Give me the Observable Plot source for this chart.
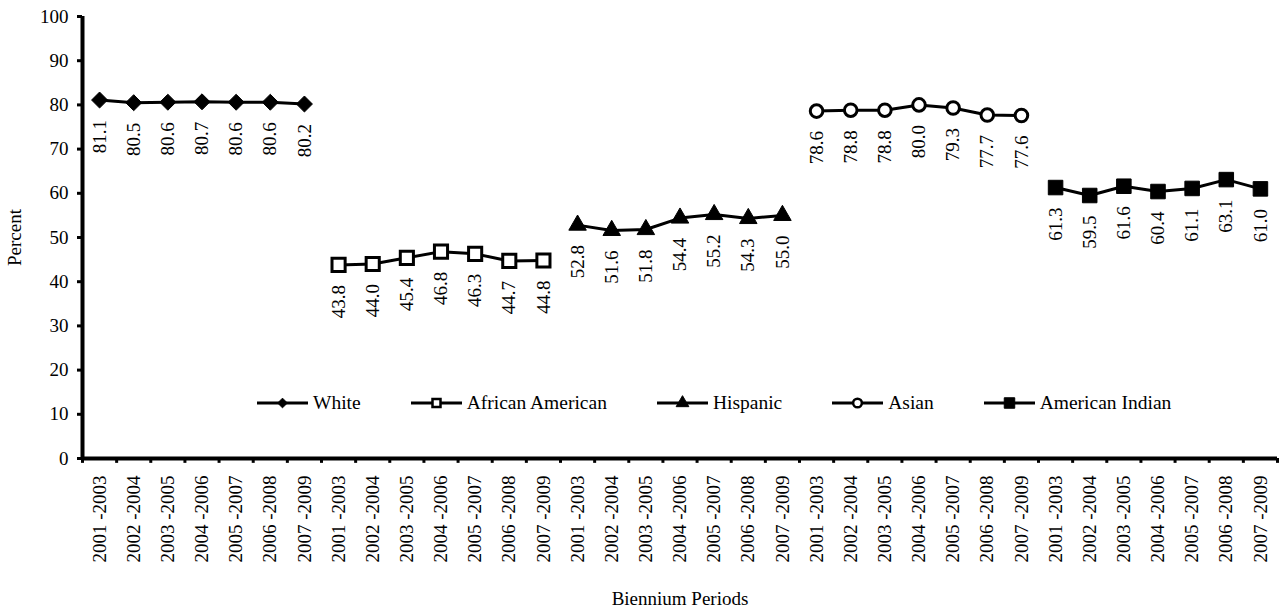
<!DOCTYPE html>
<html>
<head>
<meta charset="utf-8">
<script src="https://cdn.jsdelivr.net/npm/d3@7"></script>
<script src="https://cdn.jsdelivr.net/npm/@observablehq/plot@0.6"></script>
<style>
  html, body { margin: 0; padding: 0; background: #fff; }
  #wrap { position: relative; width: 1281px; height: 610px; }
  #chart svg, #chart svg text { font-family: "Liberation Serif", "Times New Roman", serif !important; }
  #legend { position: absolute; left: 257px; top: 391px; height: 24px; display: flex; align-items: center; gap: 50px;
            font-family: "Liberation Serif", "Times New Roman", serif; font-size: 19.5px; color: #000; white-space: nowrap; }
  #legend .item { display: flex; align-items: center; gap: 5px; }
  #legend svg { display: block; }
</style>
</head>
<body>
<div id="wrap"><div id="chart"></div><div id="legend"></div></div>
<script>
const groups = ["White", "African American", "Hispanic", "Asian", "American Indian"];
const periods = ["2001 -2003", "2002 -2004", "2003 -2005", "2004 -2006", "2005 -2007", "2006 -2008", "2007 -2009"];
const white = [81.1, 80.5, 80.6, 80.7, 80.6, 80.6, 80.2];
const africanAmerican = [43.8, 44.0, 45.4, 46.8, 46.3, 44.7, 44.8];
const hispanic = [52.8, 51.6, 51.8, 54.4, 55.2, 54.3, 55.0];
const asian = [78.6, 78.8, 78.8, 80.0, 79.3, 77.7, 77.6];
const americanIndian = [61.3, 59.5, 61.6, 60.4, 61.1, 63.1, 61.0];
const yTicks = [0, 10, 20, 30, 40, 50, 60, 70, 80, 90, 100];

const seriesValues = [white, africanAmerican, hispanic, asian, americanIndian];
const markerStyles = [
  {symbol: "diamond2", r: 7.2, fill: "black", stroke: "black", strokeWidth: 1},
  {symbol: "square", r: 7.4, fill: "white", stroke: "black", strokeWidth: 3},
  {symbol: "triangle", r: 6.5, fill: "black", stroke: "black", strokeWidth: 1},
  {symbol: "circle", r: 6.3, fill: "white", stroke: "black", strokeWidth: 3},
  {symbol: "square", r: 8.2, fill: "black", stroke: "black", strokeWidth: 1}
];

const rows = [];
groups.forEach((g, gi) => seriesValues[gi].forEach((v, pi) => rows.push({group: g, gi, idx: gi * periods.length + pi, period: periods[pi], value: v})));
const nCat = rows.length;
const catIdx = d3.range(nCat);
const boundaries = d3.range(nCat + 1).map(i => i - 0.5);

const font = '"Liberation Serif", "Times New Roman", serif';

const chart = Plot.plot({
  width: 1281,
  height: 610,
  marginLeft: 82,
  marginRight: 4,
  marginTop: 16,
  marginBottom: 152,
  style: {fontFamily: font, fontSize: "19px", color: "black", background: "white"},
  x: {type: "linear", domain: [-0.5, nCat - 0.5]},
  y: {domain: [0, 100]},
  marks: [
    Plot.axisY({ticks: yTicks, tickSize: 5, strokeWidth: 3, tickPadding: 9, fontSize: 19, fontFamily: font,
                label: "Percent", labelAnchor: "center", labelArrow: "none", labelOffset: 75}),
    Plot.axisX({ticks: catIdx, tickFormat: i => periods[i % periods.length], tickRotate: -90, tickSize: 0, fontFamily: font,
                tickPadding: 17, fontSize: 19, label: "Biennium Periods", labelAnchor: "center", labelArrow: "none", labelOffset: 146}),
    Plot.ruleX(boundaries, {x: d => d, y1: 0, y2: -1.1, stroke: "black", strokeWidth: 3}),
    Plot.ruleX([-0.5], {stroke: "black", strokeWidth: 4}),
    Plot.ruleY([0], {stroke: "black", strokeWidth: 4}),
    Plot.line(rows, {x: "idx", y: "value", z: "group", stroke: "black", strokeWidth: 3}),
    ...groups.map((g, gi) => Plot.dot(rows.filter(d => d.gi === gi), {x: "idx", y: "value", ...markerStyles[gi]})),
    Plot.text(rows, {x: "idx", y: "value", text: d => d.value.toFixed(1), rotate: -90, textAnchor: "end", fontFamily: font,
                     lineAnchor: "middle", dy: 20, fontSize: 19, fill: "black"})
  ]
});
document.getElementById("chart").appendChild(chart);

// Legend
const legendSymbols = [
  {type: d3.symbolDiamond2, size: 60, fill: "black", stroke: "black", sw: 1},
  {type: d3.symbolSquare, size: 64, fill: "white", stroke: "black", sw: 2.5},
  {type: d3.symbolTriangle, size: 70, fill: "black", stroke: "black", sw: 1},
  {type: d3.symbolCircle, size: 60, fill: "white", stroke: "black", sw: 2.5},
  {type: d3.symbolSquare, size: 110, fill: "black", stroke: "black", sw: 1}
];
const legend = d3.select("#legend");
groups.forEach((g, gi) => {
  const item = legend.append("div").attr("class", "item");
  const s = item.append("svg").attr("width", 51).attr("height", 20);
  s.append("line").attr("x1", 0).attr("x2", 51).attr("y1", 10).attr("y2", 10).attr("stroke", "black").attr("stroke-width", 3);
  const ls = legendSymbols[gi];
  s.append("path").attr("transform", "translate(25.5,10)").attr("d", d3.symbol(ls.type, ls.size)())
    .attr("fill", ls.fill).attr("stroke", ls.stroke).attr("stroke-width", ls.sw);
  item.append("span").text(g);
});
</script>
</body>
</html>
